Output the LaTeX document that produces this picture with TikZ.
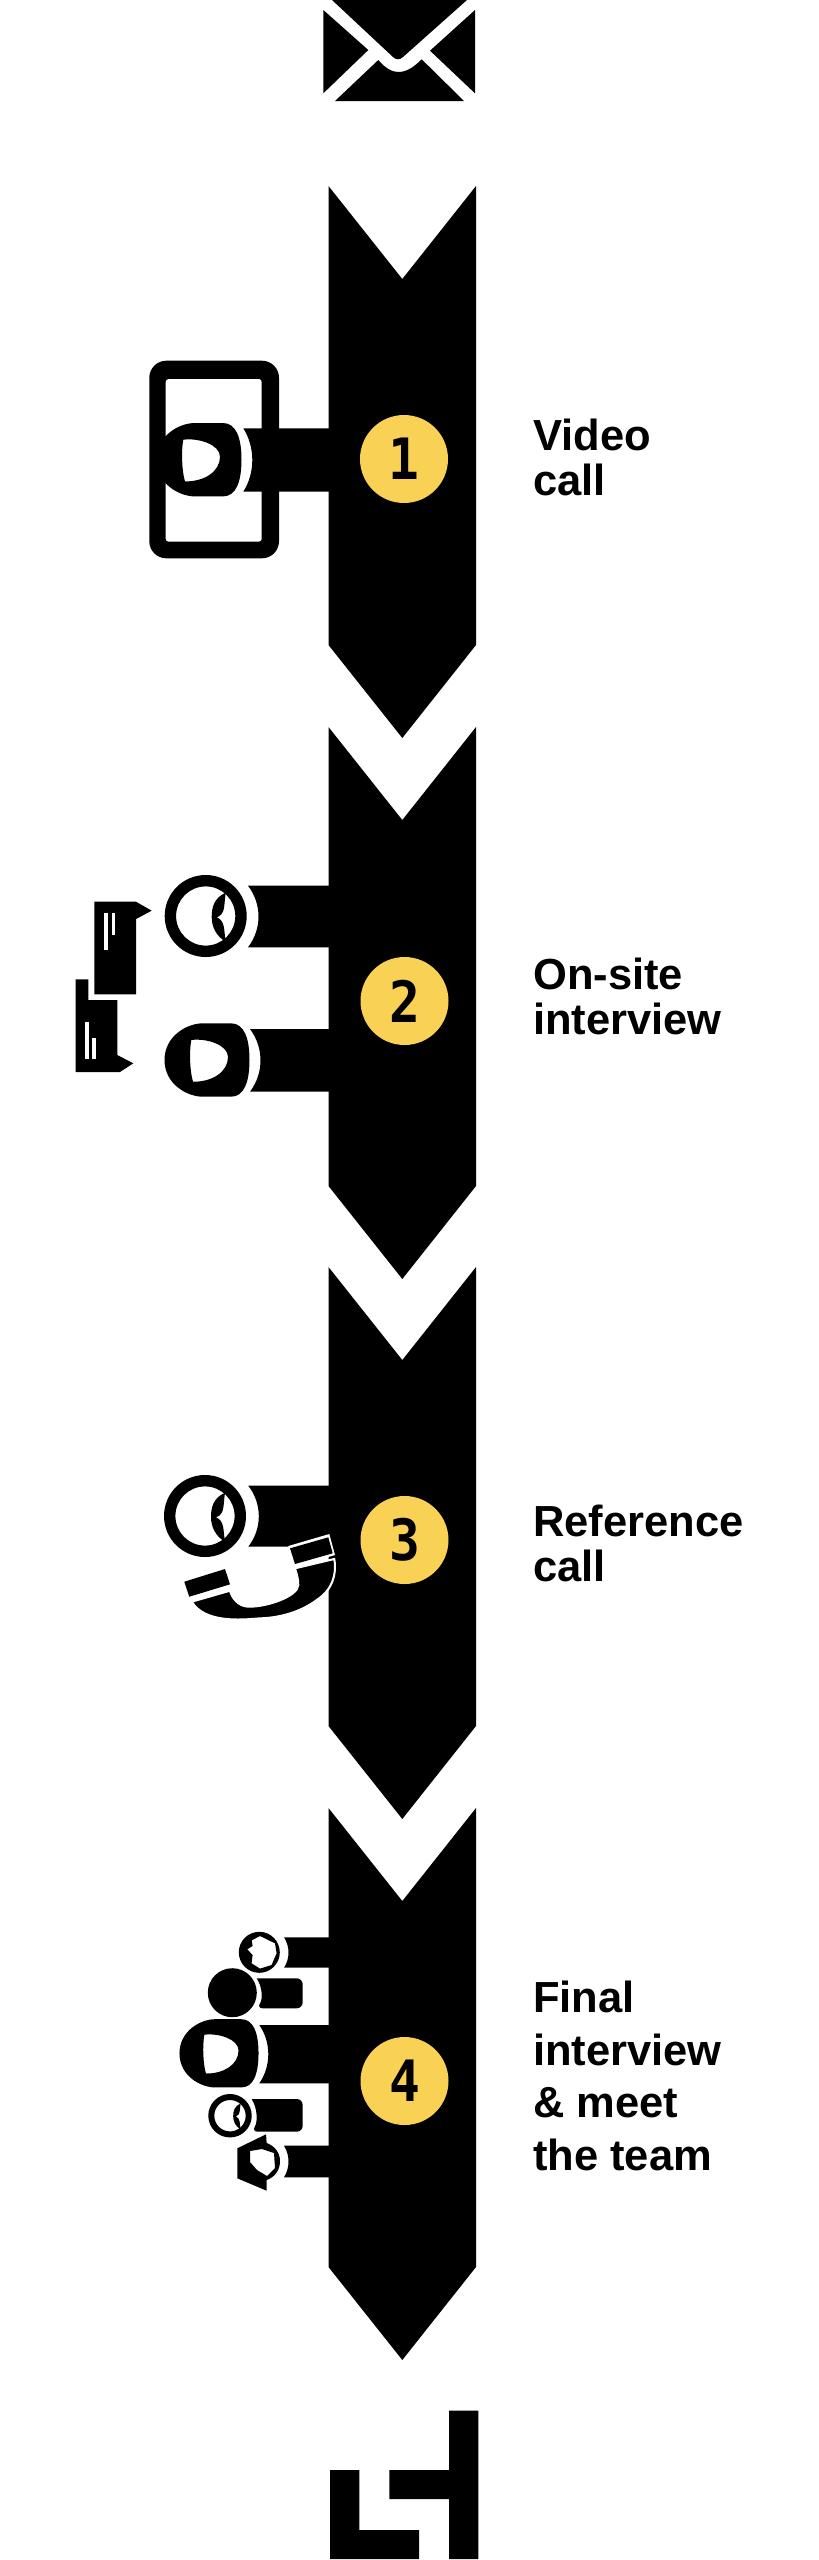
\documentclass[tikz,border=0pt]{standalone}
\usepackage{fontspec}
\setmainfont{Liberation Sans}
\newfontfamily\digitfont{DejaVu Sans Mono}
\definecolor{dotyellow}{HTML}{F8D155}
\tikzset{
  stepdot/.style={circle, fill=dotyellow, inner sep=0pt, minimum size=88pt, text=black,
    font=\digitfont\bfseries\fontsize{57}{57}\selectfont},
  steplabel/.style={anchor=west, align=left, inner sep=0pt,
    font=\bfseries\fontsize{43.5}{45}\selectfont},
  biglabel/.style={steplabel, font=\bfseries\fontsize{43.5}{52.6}\selectfont},
  bubbleline/.style={fill=white}
}
% chevron: top corner height
\newcommand{\chevron}[1]{
  \fill (328.5,#1) -- (402.3,#1+93) -- (476,#1) -- (476,#1+459) -- (402.3,#1+552) -- (328.5,#1+459) -- cycle;
}
% arm: left end, right end, top, bottom, bulge
\newcommand{\armbar}[5]{
  \fill (#1,#3) .. controls (#1+#5,#3+.3*#4-.3*#3) and (#1+#5,#4-.3*#4+.3*#3) .. (#1,#4) -- (#2,#4) -- (#2,#3) -- cycle;
}
% short arm with round corners on the free end
\newcommand{\stubbar}[5]{
  \fill[rounded corners=6pt] (#1,#3) -- (#2,#3) -- (#2,#4) -- (#1,#4) [sharp corners] .. controls (#1+#5,#4-.3*#4+.3*#3) and (#1+#5,#3+.3*#4-.3*#3) .. (#1,#3) -- cycle;
}
\newcommand{\headblob}{
  \fill[even odd rule] (-42.5,0) .. controls (-42.5,-24) and (-20,-36.7) .. (-4,-36.7) -- (24,-36.7)
    .. controls (37,-36.7) and (42.5,-22) .. (42.5,0) .. controls (42.5,22) and (37,36.7) .. (24,36.7)
    -- (-4,36.7) .. controls (-20,36.7) and (-42.5,24) .. (-42.5,0) -- cycle
    (-15.7,-20) .. controls (0,-22) and (21,-15) .. (21,-3) .. controls (21,12) and (5,22) .. (-14,21.7)
    .. controls (-17,12) and (-18,-8) .. (-15.7,-20) -- cycle;
}
\newcommand{\headring}{
  \fill[even odd rule] (0,0) circle (41) (0,0) circle (29.6);
  \fill (20,-23.3) .. controls (8,-18) and (6,-8) .. (6,1) .. controls (6,10) and (10,20) .. (20,25.7)
    .. controls (18,15) and (20,5) .. (11,1.3) .. controls (20,-2) and (18,-10) .. (20,-23.3) -- cycle;
}

\begin{document}
\begin{tikzpicture}[x=1pt, y=-1pt]
  \useasboundingbox (0,0) rectangle (819,2560);

  % envelope
  \fill (323.3,10) -- (368.3,50) -- (323.3,93.3) -- cycle;
  \fill (332,0) -- (467,0) -- (403,57) .. controls (400,60) and (396,60) .. (393,57) -- cycle;
  \fill (335,101) -- (378.3,60) .. controls (385,68) and (392,72) .. (398,72)
    .. controls (406,72) and (413,68) .. (421.7,59.3) -- (464,101) -- cycle;
  \fill (475,10) -- (430,50.7) -- (475,93.3) -- cycle;

  \chevron{186}
  \chevron{727}
  \chevron{1267}
  \chevron{1808}

  % step 1, video call
  \fill[rounded corners=17pt] (149.3,360.7) rectangle (279,558.3);
  \fill[white, rounded corners=3pt] (165.7,379) rectangle (261.7,541.7);
  \armbar{243.3}{329}{428.3}{491.7}{12}
  \begin{scope}[shift={(199,459.7)}]
    \headblob
  \end{scope}
  \node[stepdot] (dotone) at (404,459) {\scalebox{.9}[1]{1}};
  \node[steplabel] (labelone) at (533,457) {Video\\call};

  % step 2, on-site interview
  \armbar{248}{329}{885.7}{947.3}{14}
  \armbar{250}{329}{1029}{1091.7}{14}
  \begin{scope}[shift={(205.7,916)}]
    \headring
  \end{scope}
  \begin{scope}[shift={(207,1060)}]
    \headblob
  \end{scope}
  \fill (94.3,901.7) -- (136,901.7) -- (151.7,910.7) -- (136,919) -- (136,994.3) -- (94.3,994.3) -- cycle;
  \fill[bubbleline] (104.3,913.3) rectangle (107.7,950);
  \fill[bubbleline] (111.7,913.3) rectangle (115,935);
  \fill (75.7,979.3) -- (88.3,979.3) -- (88.3,1000) -- (117.3,1000) -- (117.3,1055) -- (133.3,1063.3) -- (120,1072) -- (75.7,1072) -- cycle;
  \fill[bubbleline] (85,1021.7) rectangle (89,1059);
  \fill[bubbleline] (92.3,1037.7) rectangle (95.7,1059);
  \node[stepdot] (dottwo) at (404.5,1001) {\scalebox{.9}[1]{2}};
  \node[steplabel] (labeltwo) at (533,996.5) {On-site\\interview};

  % step 3, reference call
  \armbar{248.3}{329}{1485.7}{1546.7}{14}
  \begin{scope}[shift={(205,1516)}]
    \headring
  \end{scope}
  \fill[draw=white, line width=2pt] (191.7,1601.7) -- (230,1590.7) .. controls (232,1598) and (238,1606) .. (248,1606.7)
    .. controls (268,1607) and (298,1596) .. (298.3,1585) .. controls (298.5,1578) and (296,1572) .. (295,1568.3)
    -- (334.3,1559) .. controls (337,1575) and (332,1590) .. (316.7,1600) .. controls (298,1614) and (275,1618) .. (260,1618.3)
    .. controls (240,1620) and (205,1623) .. (191.7,1601.7) -- cycle;
  \fill[white] (288.3,1546) -- (329.3,1534) -- (335,1555) -- (293.3,1567.3) -- cycle;
  \fill (290,1548.3) -- (328.3,1537.3) -- (332.7,1553.3) -- (295,1564) -- cycle;
  \fill (184.3,1581.7) -- (225,1569) -- (230,1584.3) -- (189.3,1596.7) -- cycle;
  \node[stepdot] (dotthree) at (404.5,1540) {\scalebox{.9}[1]{3}};
  \node[steplabel] (labelthree) at (533,1543.5) {Reference\\call};

  % step 4, final interview and team
  \armbar{284}{329}{1937.3}{1967.7}{6}
  \fill[even odd rule] (259.3,1952.3) circle (20.5)
    (251.8,1940.3) -- (260,1936) -- (275,1943.3) -- (276.6,1953.3) -- (271.6,1965) -- (260,1968.6) -- (251.6,1963.3) -- (252.6,1955) -- (247.3,1949.3) -- (252.6,1946) -- cycle;
  \stubbar{256.7}{302.7}{1978.3}{2008.3}{6}
  \fill (232.3,1992.7) circle (24.5);
  \armbar{259.3}{329}{2025}{2083.3}{12}
  \begin{scope}[shift={(219,2053.3)}, scale=.93]
    \headblob
  \end{scope}
  \stubbar{251.7}{302.7}{2099}{2131.7}{6}
  \begin{scope}[shift={(230,2115.7)}, scale=.53]
    \headring
  \end{scope}
  \armbar{284}{329}{2145.7}{2177.3}{6}
  \fill[even odd rule] (237.3,2148.3) -- (266,2134.3) -- (266.7,2143)
    .. controls (275,2146) and (280,2153) .. (280,2161) .. controls (280,2170) and (275,2177) .. (266.7,2180)
    -- (266.7,2190.7) -- (237.3,2178.3) -- cycle
    (250,2151) -- (262,2149) -- (274,2153) -- (275,2168) -- (267,2176) -- (257,2170) -- (250,2162) -- cycle;
  \node[stepdot] (dotfour) at (404.5,2081) {\scalebox{.9}[1]{4}};
  \node[biglabel] (labelfour) at (533,2076) {Final\\interview\\\&{} meet\\the team};

  % logo
  \fill (330,2470) -- (359.3,2470) -- (359.3,2530) -- (419,2530) -- (419,2559) -- (330,2559) -- cycle;
  \fill (449,2410.7) -- (478.3,2410.7) -- (478.3,2559) -- (449,2559) -- (449,2499) -- (389.3,2499) -- (389.3,2470) -- (449,2470) -- cycle;
\end{tikzpicture}
\end{document}
